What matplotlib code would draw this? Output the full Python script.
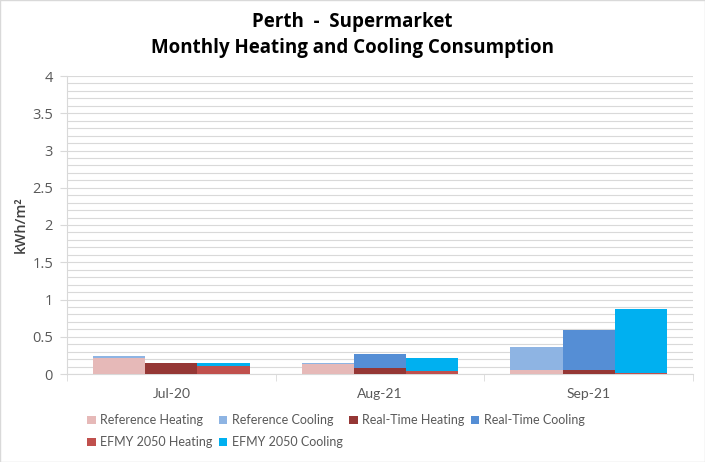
import numpy as np
import matplotlib.pyplot as plt
from matplotlib.ticker import FixedLocator

plt.rcParams['font.family'] = ['Open Sans', 'DejaVu Sans']

months = ['Jul-20', 'Aug-21', 'Sep-21']
scenarios = ['Reference', 'Real-Time', 'EFMY 2050']
heating = {
    'Reference': [0.22, 0.14, 0.054],
    'Real-Time': [0.15, 0.08, 0.054],
    'EFMY 2050': [0.11, 0.04, 0.013],
}
cooling = {
    'Reference': [0.02, 0.006, 0.31],
    'Real-Time': [0.0, 0.19, 0.54],
    'EFMY 2050': [0.04, 0.175, 0.86],
}
y_ticks = [0, 0.5, 1, 1.5, 2, 2.5, 3, 3.5, 4]
heat_colors = ['#E6B9B8', '#953735', '#C0504D']
cool_colors = ['#8EB4E3', '#558ED5', '#00B0F0']

fig = plt.figure(figsize=(7.05, 4.62), dpi=100)
ax = fig.add_axes([67 / 705, 1 - 374 / 462, (693 - 67) / 705, (374 - 76) / 462])
fig.patches.append(plt.Rectangle((0, 0), 1, 1, transform=fig.transFigure,
                                 fill=False, edgecolor='#D9D9D9', lw=1))

x = np.arange(len(months))
width = 0.25
handles = {}
for i, s in enumerate(scenarios):
    pos = x + (i - 1) * width
    h = ax.bar(pos, heating[s], width, color=heat_colors[i], zorder=3)
    c = ax.bar(pos, cooling[s], width, bottom=heating[s], color=cool_colors[i], zorder=3)
    handles[f'{s} Heating'] = h
    handles[f'{s} Cooling'] = c

ax.set_xlim(-0.5, len(months) - 0.5)
ax.set_yticks(y_ticks)
ax.set_yticklabels([f'{v:g}' for v in y_ticks])
ax.yaxis.set_minor_locator(FixedLocator(np.round(np.arange(0, 4.01, 0.1), 2)))
ax.set_ylim(0, 4)
ax.grid(axis='y', which='both', color='#D9D9D9', lw=0.8, zorder=0)
ax.set_xticks(x)
ax.set_xticklabels(months, family=['Lato', 'DejaVu Sans'])
ax.xaxis.set_minor_locator(FixedLocator(np.arange(-0.5, len(months), 1)))
ax.tick_params(axis='x', which='major', length=0, labelsize=10, colors='#595959', pad=10)
ax.tick_params(axis='x', which='minor', length=5, color='#D9D9D9')
ax.tick_params(axis='y', which='major', length=5, color='#D9D9D9', labelsize=10.5,
               labelcolor='#595959', pad=5)
ax.tick_params(axis='y', which='minor', length=0)
for sp in ['top', 'right']:
    ax.spines[sp].set_visible(False)
for sp in ['left', 'bottom']:
    ax.spines[sp].set_color('#D9D9D9')
ax.set_ylabel('kWh/m²', fontsize=10.5, fontweight='semibold', color='#404040', labelpad=3)

fig.suptitle('Perth  -  Supermarket\nMonthly Heating and Cooling Consumption',
             fontsize=13.5, fontweight='bold', y=0.975, linespacing=1.45)

# column-major fill: gives rows RefH RefC RTH RTC / EFH EFC
order = ['Reference Heating', 'EFMY 2050 Heating', 'Reference Cooling', 'EFMY 2050 Cooling',
         'Real-Time Heating', 'Real-Time Cooling']
leg = fig.legend([handles[k] for k in order], order, loc='upper left',
                 bbox_to_anchor=(0.124, 0.103), ncol=4, frameon=False,
                 prop={'family': ['Lato', 'DejaVu Sans'], 'size': 9.0},
                 handlelength=0.65, handleheight=0.65, handletextpad=0.35, columnspacing=0.55,
                 labelspacing=0.8, borderaxespad=0, borderpad=0)
for t in leg.get_texts():
    t.set_color('#595959')

fig.savefig('out.png', dpi=100)
